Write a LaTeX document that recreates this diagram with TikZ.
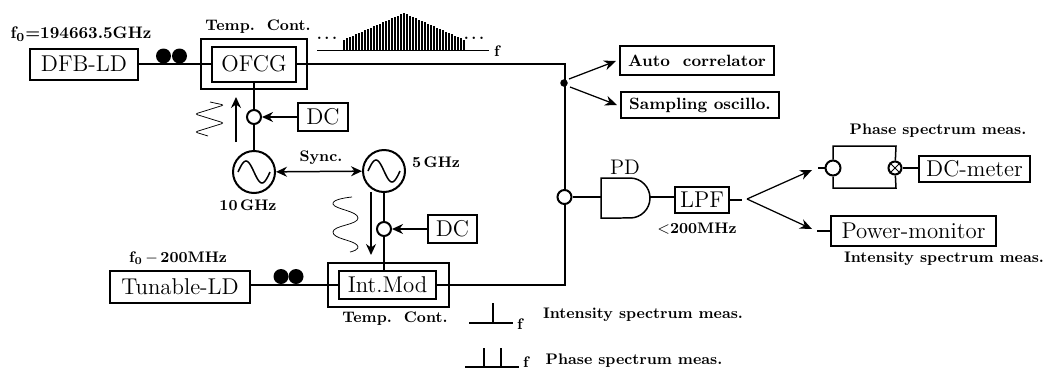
\documentclass[tikz,border=0pt]{standalone}
\usetikzlibrary{arrows.meta}
\tikzset{
  blockbox/.style={shape=rectangle,draw,line width=0.04cm,inner sep=0pt,font=\fontsize{13}{15}\selectfont},
  smallbox/.style={blockbox,font=\fontsize{9.3}{11}\selectfont\bfseries},
  ovenbox/.style={shape=rectangle,draw,line width=0.04cm,inner sep=0pt},
  joint/.style={shape=circle,draw,fill=white,line width=0.04cm,inner sep=0pt,minimum size=0.28cm},
  source/.style={shape=circle,draw,fill=white,line width=0.04cm,inner sep=0pt,minimum size=0.84cm},
  coil/.style={shape=circle,fill=black,inner sep=0pt,minimum size=0.3cm},
  caption/.style={font=\fontsize{8.7}{10}\selectfont\bfseries,inner sep=0pt},
  fibre/.style={line width=0.04cm},
  feed/.style={line width=0.03cm,-{Stealth[length=0.22cm,width=0.2cm]}},
  beam/.style={line width=0.025cm,-{Stealth[length=0.24cm,width=0.2cm]}}
}
\begin{document}
\begin{tikzpicture}[x=0.02cm,y=-0.02cm]
\useasboundingbox (0,0) rectangle (1048,369);

% laser and comb generator
\node[blockbox,minimum width=2.16cm,minimum height=0.62cm] (dfb) at (84,64) {DFB-LD};
\node[ovenbox,minimum width=2.12cm,minimum height=1.0cm] (ovena) at (254,64) {};
\node[blockbox,minimum width=1.68cm,minimum height=0.7cm] (ofcg) at (254,64) {OFCG};
\node[caption,font=\fontsize{9.5}{12}\selectfont\bfseries] (ftop) at (81,34) {f$_{\mathbf{0}}$=194663.5GHz};
\node[caption] (tempa) at (258,27) {Temp.\ \ Cont.};
\node[coil] (coila) at (163.5,56) {};
\node[coil] (coilb) at (179.5,56) {};
\draw[fibre] (dfb) -- (ofcg);

% modulation of the comb generator
\node[joint] (jointa) at (254,117) {};
\node[blockbox,minimum width=1cm,minimum height=0.56cm] (dca) at (323,117) {DC};
\node[source] (osca) at (254,172) {};
\node[caption] (ghza) at (248,205) {10\,GHz};
\draw[fibre] (ofcg) -- (jointa);
\draw[fibre] (jointa) -- (osca);
\draw[feed] (dca) -- (jointa);
\coordinate (drvafrom) at (236,142);
\coordinate (drvato) at (236,97);
\draw[feed] (drvafrom) -- (drvato);
\draw[line width=0.015cm,rounded corners=0.05cm] (208,136) -- (195,132) -- (224,123) -- (195,114) -- (224,105) -- (210,102);
\draw[line width=0.03cm,shift={(osca.center)}] plot[smooth,domain=-16:16,samples=25] (\x,{11*sin(11.25*\x)});

% second oscillator
\node[source] (oscb) at (384,171) {};
\node[caption] (ghzb) at (436,162) {5\,GHz};
\node[caption] (sync) at (321,158) {Sync.};
\draw[feed,{Stealth[length=0.22cm,width=0.2cm]}-{Stealth[length=0.22cm,width=0.2cm]}] (osca) -- (oscb);
\draw[line width=0.03cm,shift={(oscb.center)}] plot[smooth,domain=-16:16,samples=25] (\x,{11*sin(11.25*\x)});

% tunable laser and modulator
\node[blockbox,minimum width=2.8cm,minimum height=0.64cm] (tunable) at (180,287) {Tunable-LD};
\node[ovenbox,minimum width=2.42cm,minimum height=0.88cm] (ovenb) at (388.5,285) {};
\node[blockbox,minimum width=1.94cm,minimum height=0.56cm] (intmod) at (387.5,285) {Int.Mod};
\node[caption] (fbot) at (178,258) {f$_{\mathbf{0}}$\,$-$\,200MHz};
\node[caption] (tempb) at (395,319) {Temp.\ \ Cont.};
\node[coil] (coilc) at (281,276.5) {};
\node[coil] (coild) at (296,276.5) {};
\coordinate (tunableout) at (tunable.east |- intmod);
\draw[fibre] (tunableout) -- (intmod.west);
\node[joint] (jointb) at (384,229) {};
\node[blockbox,minimum width=0.98cm,minimum height=0.56cm] (dcb) at (452.5,229) {DC};
\coordinate (intmodtop) at (384,271);
\draw[fibre] (oscb) -- (jointb);
\draw[fibre] (jointb) -- (intmodtop);
\draw[feed] (dcb) -- (jointb);
\coordinate (drvbfrom) at (371,192);
\coordinate (drvbto) at (371,255);
\draw[feed] (drvbfrom) -- (drvbto);
\draw[line width=0.015cm] plot[smooth,tension=0.9] coordinates {(352,197) (333,204) (358,218) (333,232) (357,245) (350,252)};

% comb spectrum
\coordinate (combl) at (317,50);
\coordinate (combr) at (489,50);
\draw[line width=0.02cm] (combl) -- (combr);
\foreach \i in {0,...,20} {
  \draw[line width=0.025cm] (404-\i*3,50) -- (404-\i*3,13+\i*1.33);
  \draw[line width=0.025cm] (404+\i*3,50) -- (404+\i*3,13+\i*1.33);
}
\node[caption] (dotsa) at (327,38) {.\,.\,.};
\node[caption] (dotsb) at (474,38) {.\,.\,.};
\node[caption] (fcomb) at (497,51) {f};

% upper branch
\coordinate (cornera) at (564.5,64);
\node[joint] (jointc) at (564.5,197) {};
\draw[fibre] (ofcg) -- (cornera) -- (jointc);
\node[shape=circle,fill=black,inner sep=0pt,minimum size=0.15cm] (split) at (564,83) {};
\node[smallbox,minimum width=3.08cm,minimum height=0.58cm] (auto) at (697,60.5) {Auto\ \ correlator};
\node[smallbox,minimum width=3.16cm,minimum height=0.52cm] (samp) at (700,105) {Sampling oscillo.};
\coordinate (splita) at (569,79);
\coordinate (splitb) at (570,87);
\coordinate (autoin) at (616,61);
\coordinate (sampin) at (617,105);
\draw[beam] (splita) -- (autoin);
\draw[beam] (splitb) -- (sampin);

% lower branch and detector
\coordinate (cornerb) at (564.5,285);
\draw[fibre] (intmod) -- (cornerb) -- (jointc);
\node[minimum width=0.98cm,minimum height=0.8cm,inner sep=0pt] (pd) at (625.5,197) {};
\draw[line width=0.03cm] (601,178) -- (630,178) arc[start angle=90,end angle=-90,radius=0.4cm] -- (601,218) -- cycle;
\node[font=\fontsize{12}{14}\selectfont,inner sep=0pt] (pdtext) at (625,167) {PD};
\node[blockbox,minimum width=1.08cm,minimum height=0.52cm] (lpf) at (702,200) {LPF};
\node[caption] (cutoff) at (697,229) {$<$200MHz};
\draw[fibre] (jointc) -- (pd.west);
\draw[fibre] (650,197) -- (lpf.west |- 650,197);
\coordinate (lpfout) at (742,200);
\draw[fibre] (lpf) -- (lpfout);

% phase and intensity meters
\coordinate (forka) at (747,199);
\coordinate (forkb) at (812,170);
\coordinate (forkc) at (812,229);
\draw[beam] (forka) -- (forkb);
\draw[beam] (forka) -- (forkc);
\node[shape=circle,draw,fill=white,line width=0.04cm,inner sep=0pt,minimum size=0.3cm] (hybrid) at (833,168) {};
\node[shape=circle,draw,fill=white,line width=0.04cm,inner sep=0pt,minimum size=0.26cm] (mixer) at (895,168) {};
\coordinate (loopa) at (833,146);
\coordinate (loopb) at (896,146);
\coordinate (loopc) at (896,188);
\coordinate (loopd) at (833,188);
\draw[line width=0.03cm] (hybrid) -- (loopa) -- (loopb) -- (mixer) -- (loopc) -- (loopd) -- (hybrid);
\draw[line width=0.02cm] (mixer.north west) -- (mixer.south east);
\draw[line width=0.02cm] (mixer.north east) -- (mixer.south west);
\coordinate (hybridin) at (818,168);
\draw[fibre] (hybridin) -- (hybrid);
\node[blockbox,minimum width=2.22cm,minimum height=0.52cm] (dcm) at (974.5,169) {DC-meter};
\draw[fibre] (mixer) -- (dcm.west |- mixer);
\node[blockbox,minimum width=3.3cm,minimum height=0.6cm] (power) at (913.5,231) {Power-monitor};
\coordinate (powerin) at (817,231);
\draw[fibre] (powerin) -- (power);
\node[caption] (phasetop) at (938,131) {Phase spectrum meas.};
\node[caption] (intenbot) at (944,259) {Intensity spectrum meas.};

% the two line spectra
\coordinate (lineal) at (469,323);
\coordinate (linear) at (513,323);
\coordinate (lineat) at (493,303);
\coordinate (lineab) at (493,323);
\draw[line width=0.025cm] (lineal) -- (linear);
\draw[line width=0.025cm] (lineab) -- (lineat);
\node[caption] (fintens) at (520,324) {f};
\node[caption] (intenleg) at (643,315) {Intensity spectrum meas.};
\coordinate (linebl) at (465,367);
\coordinate (linebr) at (519,367);
\draw[line width=0.025cm] (linebl) -- (linebr);
\foreach \px in {484,501} {
  \draw[line width=0.025cm] (\px,367) -- (\px,348);
}
\node[caption] (fphase) at (526,362) {f};
\node[caption] (phaseleg) at (634,361) {Phase spectrum meas.};
\end{tikzpicture}
\end{document}
